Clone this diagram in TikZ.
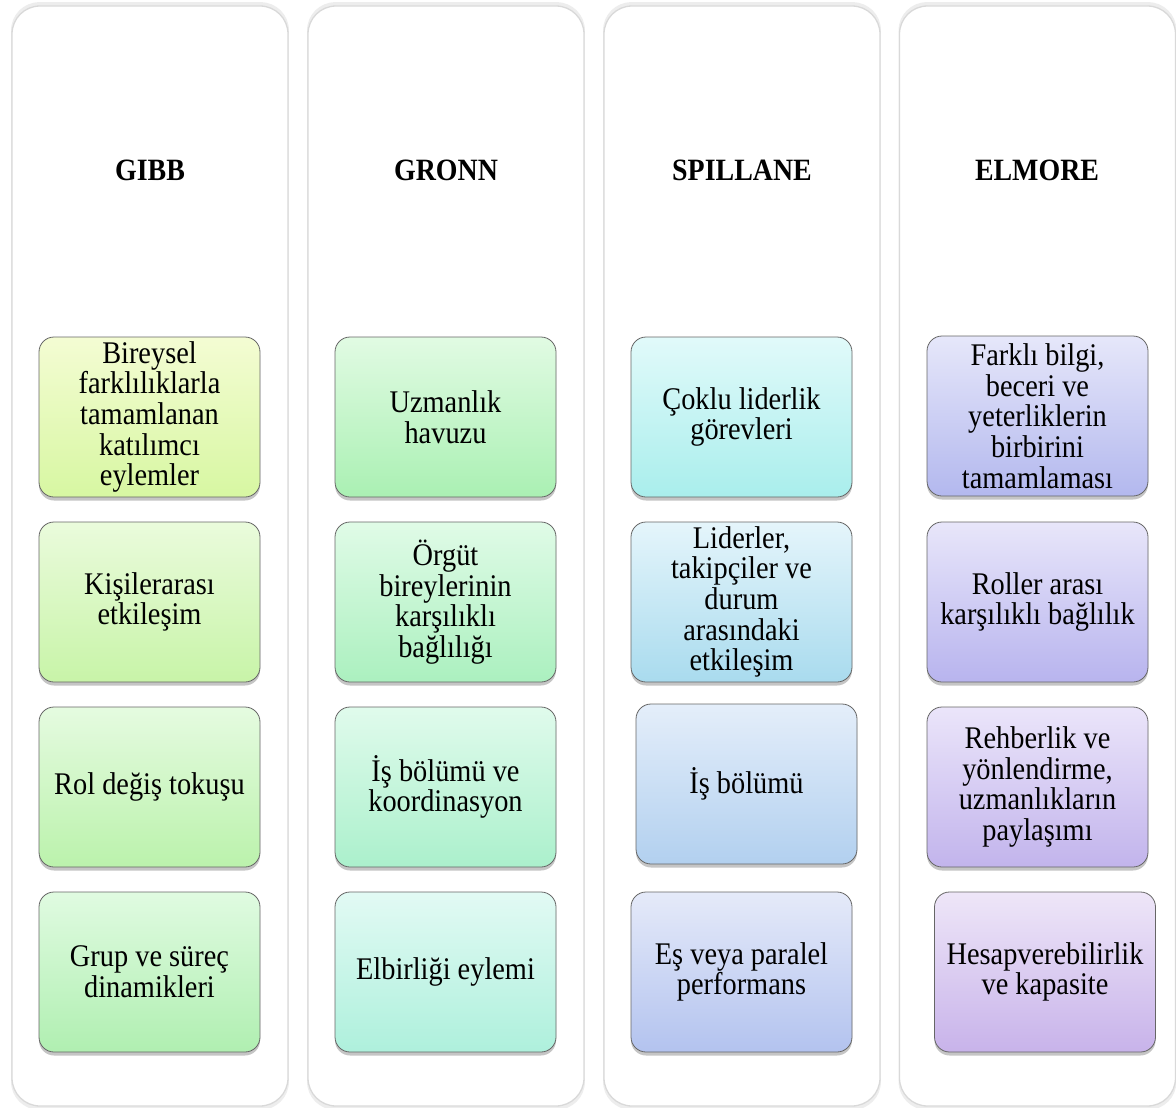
\documentclass[tikz,border=0pt]{standalone}
\usepackage{fontspec}
\setmainfont[FakeStretch=0.9]{Liberation Serif}
\usetikzlibrary{shadows}

% gradient pairs (top / bottom) for the item boxes
\definecolor{gaT}{HTML}{F4FCD3}\definecolor{gaB}{HTML}{D7F7A2}
\definecolor{gbT}{HTML}{EAFBDC}\definecolor{gbB}{HTML}{C8F4A8}
\definecolor{gcT}{HTML}{E5FBE0}\definecolor{gcB}{HTML}{BBF2AC}
\definecolor{gdT}{HTML}{E0FBE1}\definecolor{gdB}{HTML}{B0EFB1}
\definecolor{raT}{HTML}{E1FBE3}\definecolor{raB}{HTML}{AAF0B3}
\definecolor{rbT}{HTML}{E0FBE7}\definecolor{rbB}{HTML}{ABF0BF}
\definecolor{rcT}{HTML}{E0FBEC}\definecolor{rcB}{HTML}{ABF0CC}
\definecolor{rdT}{HTML}{E2FAF4}\definecolor{rdB}{HTML}{AEF0DC}
\definecolor{saT}{HTML}{E1FAFA}\definecolor{saB}{HTML}{A9EEEC}
\definecolor{sbT}{HTML}{E5F5FB}\definecolor{sbB}{HTML}{A9DBEE}
\definecolor{scT}{HTML}{E4EEFA}\definecolor{scB}{HTML}{B2D0EF}
\definecolor{sdT}{HTML}{E5EAF9}\definecolor{sdB}{HTML}{B3C3EF}
\definecolor{eaT}{HTML}{E6E7FA}\definecolor{eaB}{HTML}{B3B8EE}
\definecolor{ebT}{HTML}{E8E6FA}\definecolor{ebB}{HTML}{B8B4EE}
\definecolor{ecT}{HTML}{EBE5FA}\definecolor{ecB}{HTML}{C2B4EC}
\definecolor{edT}{HTML}{EEE6F8}\definecolor{edB}{HTML}{C8B3EA}

\begin{document}
\begin{tikzpicture}[x=1pt,y=-1pt,
  lane/.style={draw=black!15, line width=1.3pt, fill=white, rounded corners=28pt,
    minimum width=276pt, minimum height=1100pt, inner sep=0pt,
    drop shadow={shadow xshift=0pt, shadow yshift=0pt, opacity=0.14, shadow scale=1.007}},
  heading/.style={font=\bfseries\fontsize{31}{31}\selectfont, inner sep=0pt},
  item/.style={draw=black!60, line width=0.8pt, rounded corners=15pt,
    minimum width=221pt, minimum height=160pt, inner sep=2pt, align=center,
    font=\fontsize{31.5}{30.7}\selectfont,
    drop shadow={shadow xshift=0pt, shadow yshift=-3.5pt, opacity=0.45}},
  tint/.style 2 args={top color=#1, bottom color=#2}
]
\useasboundingbox (0,0) rectangle (1176,1108);

% background lanes
\node[lane] (l1) at (150,556) {};
\node[lane] (l2) at (446,556) {};
\node[lane] (l3) at (742,556) {};
\node[lane] (l4) at (1037.5,556) {};

% lane headings
\node[heading] (h1) at (150,170) {GIBB};
\node[heading] (h2) at (446,170) {GRONN};
\node[heading] (h3) at (742,170) {SPILLANE};
\node[heading] (h4) at (1037,170) {ELMORE};

% GIBB
\node[item, tint={gaT}{gaB}] (g1) at (149.5,417) {Bireysel\\farklılıklarla\\tamamlanan\\katılımcı\\eylemler};
\node[item, tint={gbT}{gbB}] (g2) at (149.5,602) {Kişilerarası\\etkileşim};
\node[item, tint={gcT}{gcB}] (g3) at (149.5,787) {Rol değiş tokuşu};
\node[item, tint={gdT}{gdB}] (g4) at (149.5,972) {Grup ve süreç\\dinamikleri};

% GRONN
\node[item, tint={raT}{raB}] (r1) at (445.5,417) {Uzmanlık\\havuzu};
\node[item, tint={rbT}{rbB}] (r2) at (445.5,602) {Örgüt\\bireylerinin\\karşılıklı\\bağlılığı};
\node[item, tint={rcT}{rcB}] (r3) at (445.5,787) {İş bölümü ve\\koordinasyon};
\node[item, tint={rdT}{rdB}] (r4) at (445.5,972) {Elbirliği eylemi};

% SPILLANE
\node[item, tint={saT}{saB}] (s1) at (741.5,417) {Çoklu liderlik\\görevleri};
\node[item, tint={sbT}{sbB}] (s2) at (741.5,602) {Liderler,\\takipçiler ve\\durum\\arasındaki\\etkileşim};
\node[item, tint={scT}{scB}] (s3) at (746.5,784) {İş bölümü};
\node[item, tint={sdT}{sdB}] (s4) at (741.5,972) {Eş veya paralel\\performans};

% ELMORE
\node[item, tint={eaT}{eaB}] (e1) at (1037.5,416) {Farklı bilgi,\\beceri ve\\yeterliklerin\\birbirini\\tamamlaması};
\node[item, tint={ebT}{ebB}] (e2) at (1037.5,602) {Roller arası\\karşılıklı bağlılık};
\node[item, tint={ecT}{ecB}] (e3) at (1037.5,787) {Rehberlik ve\\yönlendirme,\\uzmanlıkların\\paylaşımı};
\node[item, tint={edT}{edB}] (e4) at (1045,972) {Hesapverebilirlik\\ve kapasite};
\end{tikzpicture}
\end{document}
